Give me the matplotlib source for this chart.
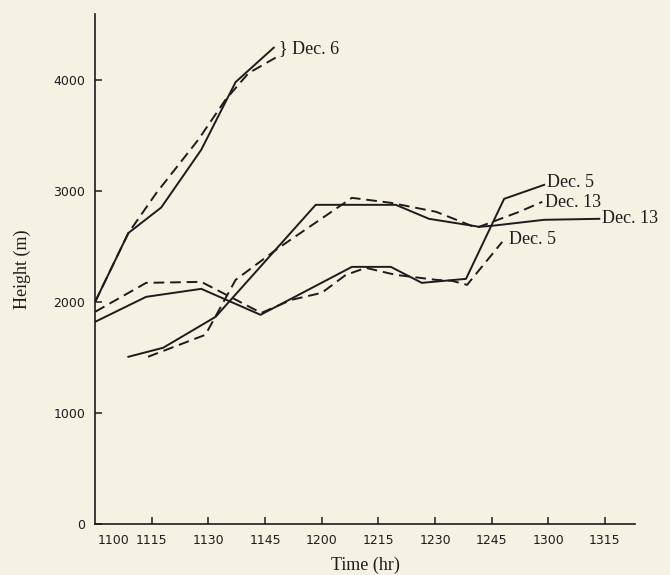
import matplotlib

matplotlib.use('Agg')
import matplotlib.pyplot as plt
from matplotlib.transforms import ScaledTranslation

# minutes after 1100 and heights (m)
dec6_t = [0, 8.8, 17.5, 28.1, 37.2, 47.3]
dec6_h = [2000, 2620, 2850, 3370, 3980, 4290]
dec6d_t = [0, 8.8, 16.2, 27.3, 34.5, 40.6, 47.8]
dec6d_h = [2000, 2620, 2980, 3460, 3820, 4060, 4200]

dec5_t = [0, 13.5, 28.1, 43.8, 68, 78.3, 86.5, 98.2, 108.3, 118.9]
dec5_h = [1820, 2045, 2117, 1883, 2315, 2315, 2171, 2207, 2928, 3054]
dec5d_t = [0, 13.5, 28.1, 44, 52, 60, 66.4, 71.7, 79.6, 90.3, 94.5, 98.5, 107.8]
dec5d_h = [1910, 2171, 2180, 1900, 2018, 2081, 2243, 2306, 2243, 2198, 2189, 2153, 2540]

dec13_t = [8.8, 18, 31.9, 58.4, 79.6, 88.4, 101.7, 105.1, 118.9, 133.5]
dec13_h = [1505, 1586, 1865, 2874, 2874, 2748, 2676, 2685, 2739, 2748]
dec13d_t = [14, 29.2, 37.2, 48.6, 68, 78.3, 90.3, 101, 112.3, 118.4]
dec13d_h = [1505, 1703, 2198, 2486, 2937, 2892, 2811, 2667, 2811, 2901]

xticks = [0, 15, 30, 45, 60, 75, 90, 105, 120, 135]
xlabels = ['1100', '1115', '1130', '1145', '1200', '1215', '1230', '1245', '1300', '1315']
yticks = [0, 1000, 2000, 3000, 4000]

paper = '#f5f2e4'
ink = '#1c1c1c'

fig = plt.figure(figsize=(6.7, 5.75), dpi=100, facecolor=paper)
ax = fig.add_axes([0.142, 0.089, 0.806, 0.887], facecolor=paper)

lw = 1.4
dash = (5.5, 3)
ax.plot(dec6_t, dec6_h, color=ink, lw=lw)
ax.plot(dec6d_t, dec6d_h, color=ink, lw=lw, dashes=dash)
ax.plot(dec5_t, dec5_h, color=ink, lw=lw)
ax.plot(dec5d_t, dec5d_h, color=ink, lw=lw, dashes=dash)
ax.plot(dec13_t, dec13_h, color=ink, lw=lw)
ax.plot(dec13d_t, dec13d_h, color=ink, lw=lw, dashes=dash)

serif = 'Liberation Serif'
ax.text(48.6, 4280, '} Dec. 6', family=serif, fontsize=13, va='center', ha='left', color=ink)
ax.text(119.7, 3075, 'Dec. 5', family=serif, fontsize=13, va='center', ha='left', color=ink)
ax.text(119.2, 2895, 'Dec. 13', family=serif, fontsize=13, va='center', ha='left', color=ink)
ax.text(134.3, 2750, 'Dec. 13', family=serif, fontsize=13, va='center', ha='left', color=ink)
ax.text(109.6, 2560, 'Dec. 5', family=serif, fontsize=13, va='center', ha='left', color=ink)

ax.set_xlim(0, 143)
ax.set_ylim(0, 4595)
ax.spines[['top', 'right']].set_visible(False)
for s in ['left', 'bottom']:
    ax.spines[s].set_color(ink)
    ax.spines[s].set_linewidth(1.2)

ax.set_xticks(xticks)
ax.set_xticklabels(xlabels)
ax.set_yticks(yticks)
ax.tick_params(direction='in', length=5, width=1.1, color=ink, labelsize=9, labelcolor=ink)
ax.tick_params(axis='x', pad=7)
ax.tick_params(axis='y', pad=7)
ax.get_xticklines()[0].set_visible(False)
# first time label sits just right of the corner
lbl = ax.get_xticklabels()[0]
lbl.set_transform(lbl.get_transform() + ScaledTranslation(18 / 100, 0, fig.dpi_scale_trans))

ax.set_xlabel('Time (hr)', family=serif, fontsize=13, color=ink, labelpad=7)
ax.set_ylabel('Height (m)', family=serif, fontsize=13, color=ink, labelpad=16)

fig.savefig('out.png', dpi=100, facecolor=paper)
